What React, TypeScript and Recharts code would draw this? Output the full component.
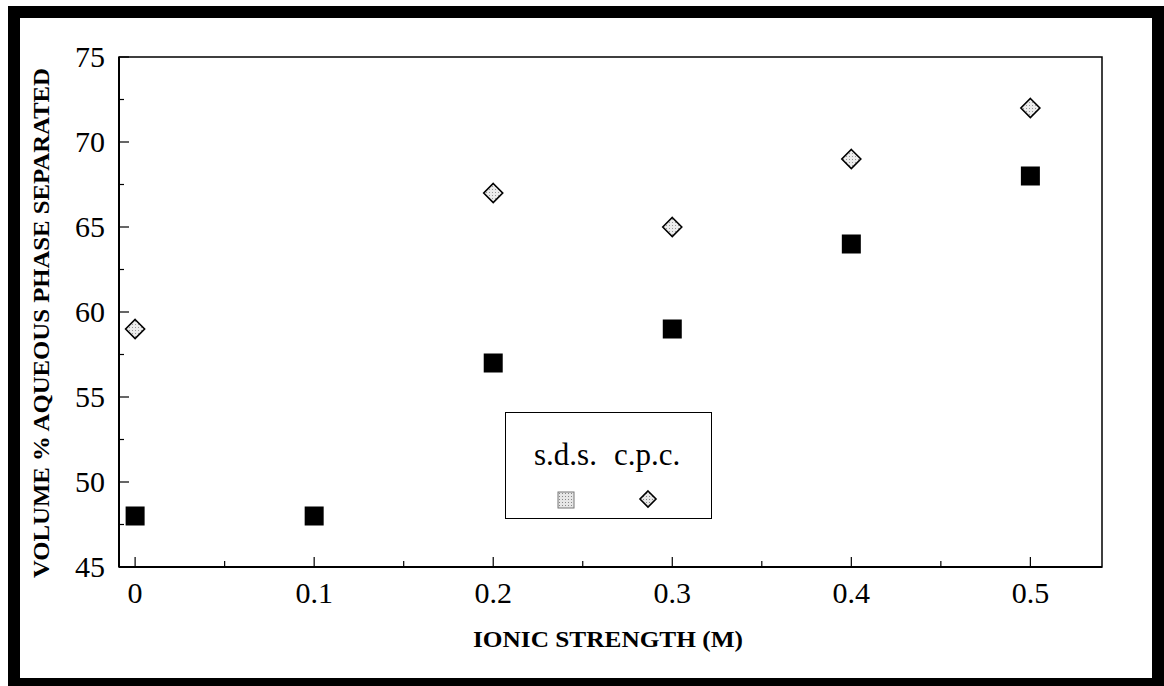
import React from "react";
import { ScatterChart, Scatter, XAxis, YAxis, ReferenceArea, Legend } from "recharts";

const ionicStrength = [0, 0.1, 0.2, 0.3, 0.4, 0.5];
const sdsValues = [48, 48, 57, 59, 64, 68];
const cpcStrength = [0, 0.2, 0.3, 0.4, 0.5];
const cpcValues = [59, 67, 65, 69, 72];
const xTicks = [0, 0.05, 0.1, 0.15, 0.2, 0.25, 0.3, 0.35, 0.4, 0.45, 0.5];
const yTicks = [45, 47.5, 50, 52.5, 55, 57.5, 60, 62.5, 65, 67.5, 70, 72.5, 75];
const xDomain = [-0.009, 0.54];
const yDomain = [45, 75];

const sdsData = ionicStrength.map((x, i) => ({ x, y: sdsValues[i] }));
const cpcData = cpcStrength.map((x, i) => ({ x, y: cpcValues[i] }));

const W = 1164;
const H = 686;
const PLOT_LEFT = 119;
const PLOT_TOP = 57;
const PLOT_RIGHT = 1102;
const PLOT_BOTTOM = 567;
const FONT = "'Liberation Serif', 'Times New Roman', serif";

const SquareShape = (props: any) => {
  const { cx, cy } = props;
  const s = 19;
  return <rect x={cx - s / 2} y={cy - s / 2} width={s} height={s} fill="#000" />;
};

const DiamondShape = (props: any) => {
  const { cx, cy } = props;
  const r = 9.5;
  return (
    <path
      d={`M${cx},${cy - r} L${cx + r},${cy} L${cx},${cy + r} L${cx - r},${cy} Z`}
      fill="url(#dotFill)"
      stroke="#000"
      strokeWidth={1.6}
    />
  );
};

const YTick = (props: any) => {
  const { payload, index } = props;
  const y = payload.coordinate;
  const major = index % 2 === 0;
  return (
    <g>
      <line x1={PLOT_LEFT} x2={PLOT_LEFT + (major ? 10 : 5)} y1={y} y2={y} stroke="#000" strokeWidth={1.2} />
      {major && (
        <text x={PLOT_LEFT - 14} y={y - 1} textAnchor="end" dominantBaseline="central" fontSize={30} fontFamily={FONT} fill="#000">
          {payload.value}
        </text>
      )}
    </g>
  );
};

const XTick = (props: any) => {
  const { payload, index } = props;
  const x = payload.coordinate;
  const major = index % 2 === 0;
  return (
    <g>
      <line x1={x} x2={x} y1={PLOT_BOTTOM} y2={PLOT_BOTTOM - (major ? 10 : 6)} stroke="#000" strokeWidth={1.2} />
      {major && (
        <text x={x} y={PLOT_BOTTOM + 25} textAnchor="middle" dominantBaseline="central" fontSize={30} fontFamily={FONT} fill="#000">
          {String(payload.value)}
        </text>
      )}
    </g>
  );
};

const LegendBox = () => (
  <div
    style={{
      position: "absolute",
      left: 505,
      top: 412,
      width: 207,
      height: 107,
      border: "1.5px solid #000",
      boxSizing: "border-box",
      background: "#fff",
    }}
  >
    <svg width={207} height={107} style={{ position: "absolute", left: -1.5, top: -1.5 }}>
      <defs>
        <pattern id="dotFillL" width="3" height="3" patternUnits="userSpaceOnUse">
          <rect width="3" height="3" fill="#e6e6e6" />
          <rect width="1" height="1" fill="#888" />
        </pattern>
      </defs>
      <text x={29} y={53} fontSize={31} fontFamily={FONT} fill="#000">s.d.s.</text>
      <text x={109} y={53} fontSize={31} fontFamily={FONT} fill="#000">c.p.c.</text>
      <rect x={53} y={80} width={16} height={16} fill="url(#dotFillL)" stroke="#777" strokeWidth={1} />
      <path d="M143,79 L151,87 L143,95 L135,87 Z" fill="url(#dotFillL)" stroke="#000" strokeWidth={1.6} />
    </svg>
  </div>
);

export default function App() {
  return (
    <div style={{ position: "absolute", left: 0, top: 0, width: W, height: H, background: "#fff", overflow: "hidden" }}>
      <div
        style={{
          position: "absolute",
          left: 8,
          top: 6,
          width: W - 8,
          height: H - 6,
          borderStyle: "solid",
          borderColor: "#000",
          borderWidth: "12px 12px 8px 12px",
          boxSizing: "border-box",
        }}
      />
      <div style={{ position: "absolute", left: 0, top: 0 }}>
        <ScatterChart
          width={W}
          height={H}
          margin={{ top: PLOT_TOP, right: W - PLOT_RIGHT, bottom: H - PLOT_BOTTOM - 60, left: PLOT_LEFT - 60 }}
        >
          <defs>
            <pattern id="dotFill" width="3" height="3" patternUnits="userSpaceOnUse">
              <rect width="3" height="3" fill="#ececec" />
              <rect width="1" height="1" fill="#999" />
            </pattern>
          </defs>
          <XAxis
            type="number"
            dataKey="x"
            domain={xDomain}
            ticks={xTicks}
            interval={0}
            height={60}
            axisLine={{ stroke: "#000", strokeWidth: 2 }}
            tickLine={false}
            tick={<XTick />}
            allowDataOverflow
            label={{
              content: () => (
                <text x={608} y={639} textAnchor="middle" dominantBaseline="central" fontSize={23} fontWeight="bold" fontFamily={FONT} fill="#000" textLength={270} lengthAdjust="spacingAndGlyphs">
                  IONIC STRENGTH (M)
                </text>
              ),
            }}
          />
          <YAxis
            type="number"
            dataKey="y"
            domain={yDomain}
            ticks={yTicks}
            interval={0}
            width={60}
            axisLine={{ stroke: "#000", strokeWidth: 2 }}
            tickLine={false}
            tick={<YTick />}
            allowDataOverflow
            label={{
              content: () => (
                <text x={41} y={323} textAnchor="middle" dominantBaseline="central" fontSize={24} fontWeight="bold" fontFamily={FONT} fill="#000" textLength={510} lengthAdjust="spacingAndGlyphs" transform="rotate(-90 41 323)">
                  VOLUME % AQUEOUS PHASE SEPARATED
                </text>
              ),
            }}
          />
          <ReferenceArea x1={xDomain[0]} x2={xDomain[1]} y1={yDomain[0]} y2={yDomain[1]} fill="none" stroke="#000" strokeWidth={1.5} ifOverflow="visible" />
          <Scatter name="s.d.s." data={sdsData} shape={<SquareShape />} isAnimationActive={false} />
          <Scatter name="c.p.c." data={cpcData} shape={<DiamondShape />} isAnimationActive={false} />
          <Legend content={() => null} />
        </ScatterChart>
      </div>
      <LegendBox />
    </div>
  );
}
